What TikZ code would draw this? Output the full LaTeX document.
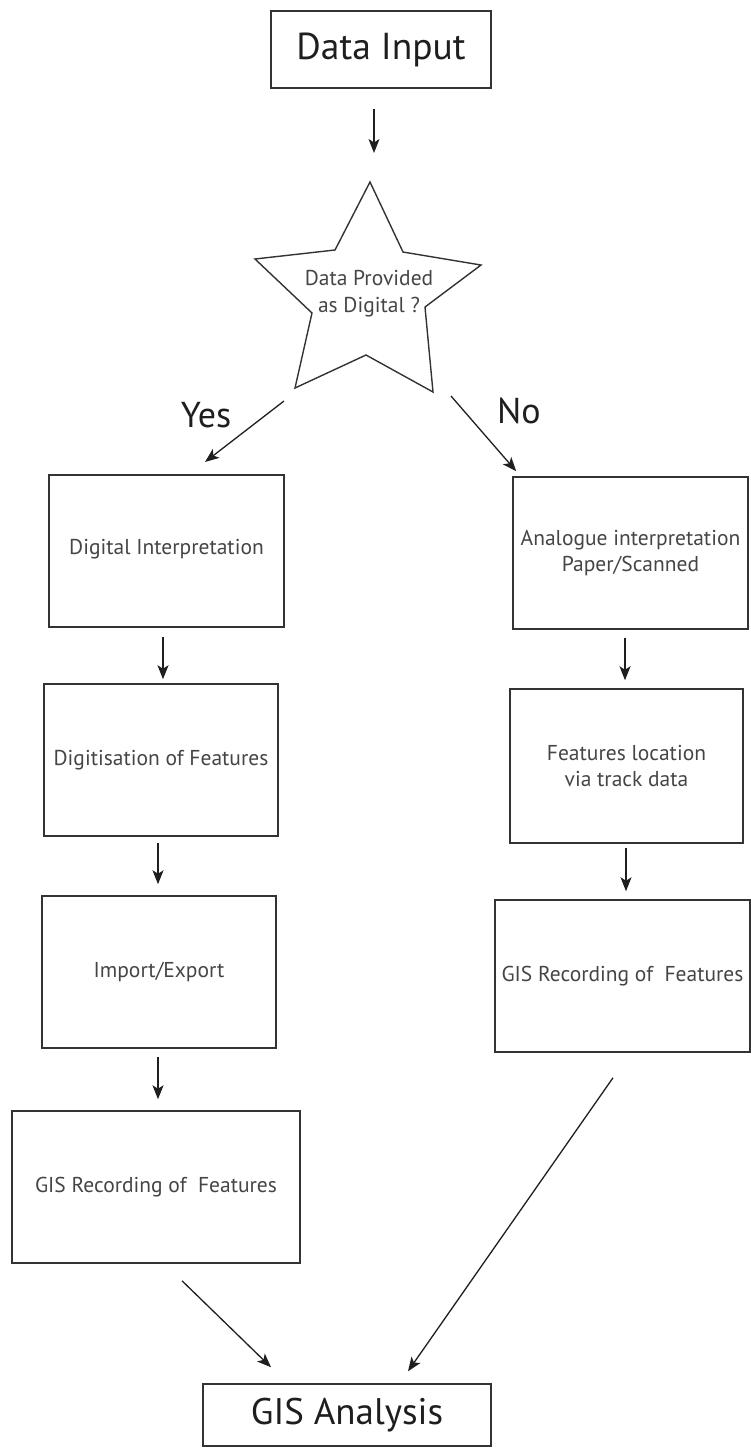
\documentclass[tikz,border=0pt]{standalone}
\usepackage{fontspec}
\setmainfont{PT Sans}
\usetikzlibrary{arrows.meta}
\definecolor{linegray}{HTML}{333333}
\definecolor{textgray}{HTML}{454545}
\definecolor{darktext}{HTML}{1E1E1E}
\begin{document}
\begin{tikzpicture}[x=1pt,y=-1pt,
  box/.style={draw=linegray, line width=1.5pt, rectangle, inner sep=0pt, align=center,
    text=textgray, font=\fontsize{21.5}{26}\selectfont},
  bigbox/.style={box, text=darktext, font=\fontsize{37.5}{40}\selectfont},
  startext/.style={align=center, inner sep=0pt, text=textgray, font=\fontsize{21.5}{27}\selectfont},
  lbl/.style={inner sep=0pt, text=darktext, font=\fontsize{36}{40}\selectfont},
  arr/.style={draw=black!88, line width=1.3pt, -{Stealth[length=14pt,width=11pt,inset=3.5pt]}},
  starline/.style={draw=linegray, line width=1.4pt, line join=miter}
]
\useasboundingbox (0,0) rectangle (751,1448);

% top
\node[bigbox, minimum width=220pt, minimum height=77pt] (datainput) at (381,49.5) {Data Input};

% star
\draw[starline] (370,182) -- (403,252) -- (481,265) -- (425,307) -- (433,392) -- (366,355)
  -- (295,388) -- (312,313) -- (255,259) -- (335,250) -- cycle;
\coordinate (startop) at (370,182);
\node[startext] (star) at (369,294) {Data Provided\\as Digital ?};

% left column
\node[box, minimum width=235pt, minimum height=152pt] (dig) at (166.5,551) {\raisebox{8pt}{Digital Interpretation}};
\node[box, minimum width=234pt, minimum height=152pt] (digit) at (161,760) {Digitisation of Features};
\node[box, minimum width=234pt, minimum height=152pt] (imp) at (159,972) {Import/Export};
\node[box, minimum width=288pt, minimum height=152pt] (gisl) at (156,1187) {GIS Recording of\ \ Features};

% right column
\node[box, minimum width=235pt, minimum height=152pt] (ana) at (630.5,553) {Analogue interpretation\\Paper/Scanned};
\node[box, minimum width=233pt, minimum height=154pt] (feat) at (626.5,766) {Features location\\via track data};
\node[box, minimum width=255pt, minimum height=152pt] (gisr) at (622.5,976) {GIS Recording of\ \ Features};

% bottom
\node[bigbox, minimum width=288pt, minimum height=62pt, font=\fontsize{37}{42}\selectfont] (gisa) at (347,1415) {GIS Analysis};

% labels
\node[lbl] (yes) at (206,415) {Yes};
\node[lbl] (no) at (519,411) {No};

% connectors
\coordinate (yesS) at (284,401);
\coordinate (yesE) at (205,462);
\coordinate (noS) at (451,396);

\draw[arr] ([xshift=-7pt,yshift=-20pt]datainput.south) -- ([xshift=4pt,yshift=29pt]startop);
\draw[arr] (yesS) -- (yesE);
\draw[arr] (noS) -- ([xshift=4pt,yshift=5pt]ana.north west);

\draw[arr] ([xshift=-3.5pt,yshift=-9pt]dig.south) -- ([xshift=2pt,yshift=4pt]digit.north);
\draw[arr] ([xshift=-3pt,yshift=-6pt]digit.south) -- ([xshift=-1pt,yshift=11pt]imp.north);
\draw[arr] ([xshift=-1pt,yshift=-8pt]imp.south) -- ([xshift=2pt,yshift=11pt]gisl.north);

\draw[arr] ([xshift=-5.5pt,yshift=-8pt]ana.south) -- ([xshift=-1.5pt,yshift=8pt]feat.north);
\draw[arr] ([xshift=-0.5pt,yshift=-4pt]feat.south) -- ([xshift=3.5pt,yshift=8pt]gisr.north);

\draw[arr] ([xshift=26pt,yshift=-17pt]gisl.south) -- ([xshift=-76pt,yshift=16pt]gisa.north);
\draw[arr] ([xshift=-9.5pt,yshift=-25pt]gisr.south) -- ([xshift=61pt,yshift=12pt]gisa.north);
\end{tikzpicture}
\end{document}
